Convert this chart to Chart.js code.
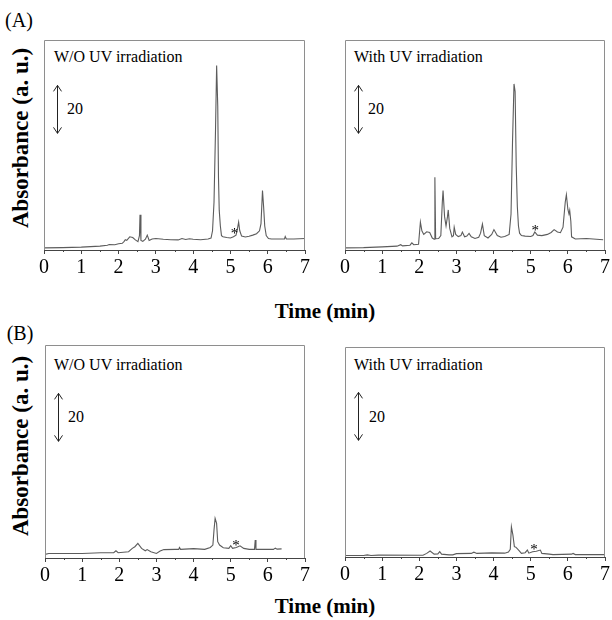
<!DOCTYPE html>
<html>
<head>
<meta charset="utf-8">
<script src="https://cdn.jsdelivr.net/npm/chart.js@4.4.0/dist/chart.umd.min.js"></script>
<style>
body { margin: 0; background: #fff; }
#wrap { position: relative; width: 612px; height: 620px; overflow: hidden; font-family: "Liberation Serif", "Times New Roman", serif; color: #000; }
#wrap canvas { position: absolute; }
.lbl { position: absolute; white-space: nowrap; line-height: 1; transform: translate(-50%, -50%); }
.big { font-size: 21px; font-weight: bold; }
.ylab { font-size: 23px; font-weight: bold; transform: translate(-50%, -50%) rotate(-90deg); }
.tag { font-size: 20px; }
.pl { position: absolute; white-space: nowrap; line-height: 1; font-size: 16px; transform: translateY(-50%); }
</style>
</head>
<body>
<div id="wrap">
  <div class="lbl tag" style="left:19px;top:20px">(A)</div>
  <div class="lbl tag" style="left:20px;top:333px">(B)</div>
  <div class="lbl ylab" style="left:20px;top:138px">Absorbance (a. u.)</div>
  <div class="lbl ylab" style="left:20px;top:446px">Absorbance (a. u.)</div>
  <div class="lbl big" style="left:325px;top:311px">Time (min)</div>
  <div class="lbl big" style="left:325px;top:606px">Time (min)</div>

  <div class="pl" style="left:54px;top:57px">W/O UV irradiation</div>
  <div class="pl" style="left:354px;top:57px">With UV irradiation</div>
  <div class="pl" style="left:54px;top:365px">W/O UV irradiation</div>
  <div class="pl" style="left:354px;top:365px">With UV irradiation</div>
  <div class="pl" style="left:67px;top:109px">20</div>
  <div class="pl" style="left:368px;top:109px">20</div>
  <div class="pl" style="left:68px;top:417px">20</div>
  <div class="pl" style="left:369px;top:417px">20</div>
</div>
<script>
// (A) W/O UV irradiation
var tA1 = [0, 0.5, 1.0, 1.5, 1.7, 1.75, 1.9, 2.0, 2.1, 2.15, 2.18, 2.22, 2.3, 2.38, 2.45, 2.52, 2.56, 2.575, 2.6, 2.65, 2.72, 2.77, 2.82, 2.9, 3.0, 3.2, 3.4, 3.6, 3.7, 3.8, 3.9, 4.0, 4.2, 4.4, 4.48, 4.52, 4.56, 4.6, 4.63, 4.66, 4.68, 4.7, 4.73, 4.76, 4.8, 4.9, 5.0, 5.08, 5.15, 5.19, 5.22, 5.25, 5.3, 5.4, 5.5, 5.6, 5.7, 5.78, 5.82, 5.86, 5.89, 5.92, 5.96, 6.02, 6.1, 6.3, 6.45, 6.47, 6.5, 6.7, 7.0];
var vA1 = [0.9, 1.0, 1.2, 1.6, 2.0, 2.3, 2.2, 2.6, 2.8, 3.6, 4.3, 4.0, 5.5, 5.2, 4.2, 3.5, 6.0, 14.7, 4.0, 3.6, 4.5, 6.2, 4.0, 4.6, 4.8, 4.5, 4.3, 4.2, 4.8, 4.4, 4.7, 4.5, 4.3, 4.6, 5.0, 8.0, 20, 50, 76.9, 60, 30, 16.5, 10, 6.0, 5.5, 5.2, 5.0, 5.5, 6.2, 9.0, 11.6, 8.0, 5.8, 5.4, 5.7, 6.2, 6.8, 8.0, 11, 24.8, 18, 10, 6.0, 4.8, 4.6, 4.6, 4.6, 5.6, 4.6, 4.6, 4.8];
var starA1 = [5.11, 8.4];

// (A) With UV irradiation
var tA2 = [0, 0.5, 1.0, 1.4, 1.5, 1.55, 1.75, 1.8, 1.85, 1.98, 2.01, 2.03, 2.07, 2.12, 2.2, 2.28, 2.35, 2.4, 2.42, 2.44, 2.52, 2.58, 2.62, 2.64, 2.68, 2.72, 2.76, 2.78, 2.82, 2.88, 2.92, 2.94, 2.98, 3.05, 3.12, 3.16, 3.22, 3.28, 3.34, 3.4, 3.5, 3.6, 3.65, 3.7, 3.75, 3.85, 3.95, 4.01, 4.1, 4.2, 4.3, 4.42, 4.47, 4.51, 4.55, 4.58, 4.61, 4.64, 4.67, 4.7, 4.75, 4.85, 5.0, 5.06, 5.11, 5.18, 5.3, 5.45, 5.55, 5.63, 5.72, 5.8, 5.87, 5.93, 5.96, 6.0, 6.03, 6.05, 6.08, 6.1, 6.2, 6.5, 6.95];
var vA2 = [0.9, 1.0, 1.3, 1.6, 2.2, 1.7, 2.0, 3.0, 2.2, 2.4, 8.0, 11.6, 8.0, 6.5, 7.6, 7.3, 5.0, 4.5, 30.3, 4.7, 4.8, 6.0, 20, 24.8, 14, 10, 14, 16.7, 9.0, 5.5, 6.0, 9.5, 6.5, 5.6, 6.0, 7.5, 5.5, 5.8, 6.9, 5.5, 4.8, 5.3, 7.0, 10.8, 6.0, 5.0, 6.5, 8.5, 6.0, 5.3, 5.6, 6.5, 15, 45, 69.2, 66, 35, 18, 10, 7.0, 6.0, 5.8, 5.6, 6.0, 7.5, 6.2, 6.0, 6.5, 7.3, 8.5, 7.5, 7.2, 9.5, 20, 23, 17, 15, 16.5, 12, 5.5, 4.6, 4.8, 4.3];
var starA2 = [5.12, 9.7];

// (B) W/O UV irradiation
var tB1 = [0, 0.1, 1.0, 1.5, 1.85, 1.91, 1.97, 2.25, 2.35, 2.42, 2.5, 2.6, 2.7, 2.75, 2.85, 3.0, 3.1, 3.2, 3.5, 3.6, 3.62, 3.65, 4.0, 4.3, 4.45, 4.52, 4.55, 4.58, 4.62, 4.65, 4.7, 4.8, 4.95, 5.0, 5.05, 5.15, 5.25, 5.35, 5.5, 5.64, 5.66, 5.68, 6.15, 6.2, 6.25, 6.37];
var vB1 = [1.5, 1.9, 1.9, 2.2, 2.2, 3.0, 2.2, 2.6, 4.0, 4.7, 6.1, 4.0, 3.0, 3.5, 2.6, 1.9, 2.9, 3.5, 3.6, 3.6, 4.4, 3.6, 3.9, 3.6, 4.4, 5.4, 11.6, 16.5, 14.4, 6.8, 5.4, 4.3, 4.0, 5.1, 4.0, 4.4, 5.1, 4.0, 3.6, 3.6, 7.5, 3.6, 3.6, 4.1, 3.7, 3.8];
var starB1 = [5.14, 6.7];

// (B) With UV irradiation
var tB2 = [0, 0.5, 0.6, 0.7, 0.9, 2.1, 2.2, 2.29, 2.4, 2.5, 2.55, 2.6, 2.8, 2.9, 3.0, 3.4, 3.47, 3.55, 3.95, 4.3, 4.4, 4.45, 4.48, 4.52, 4.56, 4.6, 4.68, 4.75, 4.85, 4.91, 4.95, 5.05, 5.15, 5.26, 5.3, 5.5, 5.6, 6.1, 6.14, 6.2, 7.0];
var vB2 = [0.6, 0.6, 0.9, 0.6, 0.8, 0.7, 1.5, 2.5, 1.2, 1.3, 2.2, 1.2, 0.9, 0.9, 1.4, 1.5, 2.0, 1.5, 1.7, 1.6, 2.1, 3.2, 12.6, 9.2, 4.3, 4.1, 2.8, 1.5, 1.8, 2.9, 1.6, 2.2, 2.4, 2.9, 1.5, 1.2, 1.0, 1.2, 1.5, 1.0, 1.0];
var starB2 = [5.09, 4.6];

var pxPerUnit = 2.4; // vertical size, 20 units = length of the scale arrow

var panels = [
  { box: [44, 40, 305, 250], t: tA1, v: vA1, star: starA1 },
  { box: [345, 40, 605, 250], t: tA2, v: vA2, star: starA2 },
  { box: [45, 345, 305, 558], t: tB1, v: vB1, star: starB1 },
  { box: [345, 347, 605, 557], t: tB2, v: vB2, star: starB2 }
];

var decor = {
  id: 'decor',
  afterDraw: function(chart, args, o) {
    var ctx = chart.ctx, a = chart.chartArea;
    var xs = chart.scales.x, ys = chart.scales.y;
    ctx.save();
    // frame on three sides
    ctx.strokeStyle = '#8e8e8e';
    ctx.lineWidth = 1;
    ctx.beginPath();
    ctx.moveTo(a.left + 0.5, a.bottom);
    ctx.lineTo(a.left + 0.5, a.top + 0.5);
    ctx.lineTo(a.right - 0.5, a.top + 0.5);
    ctx.lineTo(a.right - 0.5, a.bottom);
    ctx.stroke();
    // minor ticks at half minutes
    ctx.strokeStyle = '#444';
    ctx.beginPath();
    for (var m = 0.5; m < 7; m += 1) {
      var px = Math.round(xs.getPixelForValue(m)) + 0.5;
      ctx.moveTo(px, a.bottom);
      ctx.lineTo(px, a.bottom + 2);
    }
    ctx.stroke();
    // scale arrow, 20 units
    var bx = Math.round(xs.getPixelForValue(0.36)) + 0.5;
    var y1 = ys.getPixelForValue(48.6), y2 = ys.getPixelForValue(68.6);
    ctx.strokeStyle = '#222';
    ctx.beginPath();
    ctx.moveTo(bx, y1); ctx.lineTo(bx, y2);
    ctx.moveTo(bx - 4, y2 + 6); ctx.lineTo(bx, y2); ctx.lineTo(bx + 4, y2 + 6);
    ctx.moveTo(bx - 4, y1 - 6); ctx.lineTo(bx, y1); ctx.lineTo(bx + 4, y1 - 6);
    ctx.stroke();
    // asterisk mark
    ctx.fillStyle = '#000';
    ctx.font = '15px "Liberation Serif"';
    ctx.textAlign = 'center';
    ctx.textBaseline = 'alphabetic';
    ctx.fillText('*', xs.getPixelForValue(o.star[0]), ys.getPixelForValue(o.star[1]) + 8);
    ctx.restore();
  }
};

var wrap = document.getElementById('wrap');
for (var i = 0; i < panels.length; i++) {
  var p = panels[i];
  var cv = document.createElement('canvas');
  var w = p.box[2] - p.box[0] + 24;
  var h = p.box[3] - p.box[1] + 50;
  cv.width = w; cv.height = h;
  cv.style.left = (p.box[0] - 12) + 'px';
  cv.style.top = (p.box[1] - 10) + 'px';
  cv.style.width = w + 'px'; cv.style.height = h + 'px';
  wrap.appendChild(cv);

  var pts = [];
  for (var k = 0; k < p.t.length; k++) pts.push({ x: p.t[k], y: p.v[k] });

  new Chart(cv, {
    type: 'line',
    data: { datasets: [{ data: pts, borderColor: '#5c5c5c', borderWidth: 1.1, pointRadius: 0, tension: 0, fill: false }] },
    options: {
      responsive: false,
      animation: false,
      events: [],
      layout: { padding: { left: 12, right: 12, top: 10, bottom: 0 } },
      plugins: { legend: { display: false }, tooltip: { enabled: false }, decor: { star: p.star } },
      scales: {
        x: {
          type: 'linear', min: 0, max: 7,
          afterFit: function(s) { s.height = 40; },
          ticks: { stepSize: 1, color: '#000', maxRotation: 0, padding: 2, font: { family: 'Liberation Serif', size: 20 } },
          grid: { drawOnChartArea: false, drawTicks: true, tickLength: 4, color: '#444', lineWidth: 1 },
          border: { display: true, color: '#444', width: 1 }
        },
        y: { display: false, min: 0, max: (p.box[3] - p.box[1]) / pxPerUnit }
      }
    },
    plugins: [decor]
  });
}
</script>
</body>
</html>
